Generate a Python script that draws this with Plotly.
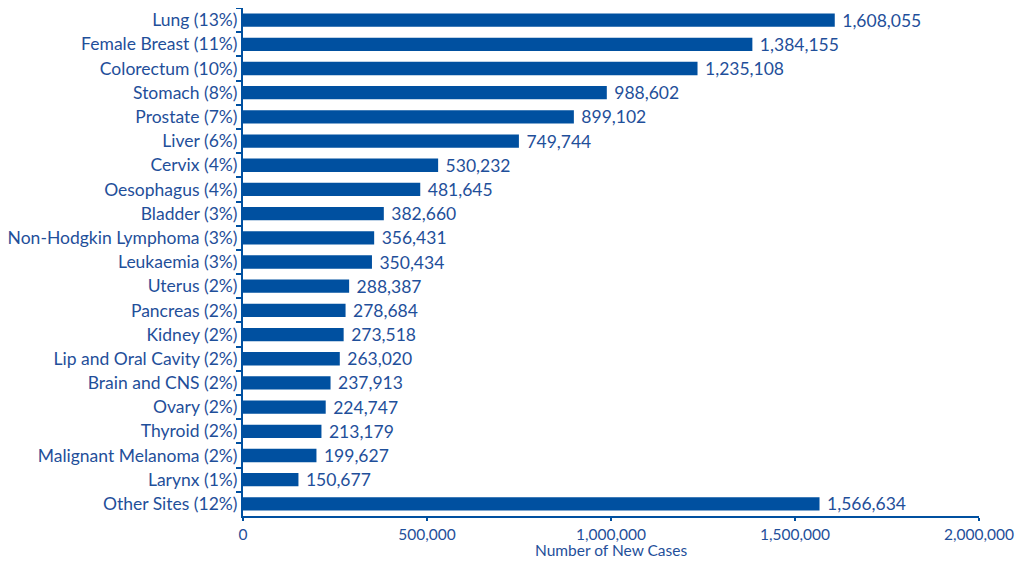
import plotly.graph_objects as go

categories = ["Lung (13%)", "Female Breast (11%)", "Colorectum (10%)", "Stomach (8%)",
              "Prostate (7%)", "Liver (6%)", "Cervix (4%)", "Oesophagus (4%)", "Bladder (3%)",
              "Non-Hodgkin Lymphoma (3%)", "Leukaemia (3%)", "Uterus (2%)", "Pancreas (2%)",
              "Kidney (2%)", "Lip and Oral Cavity (2%)", "Brain and CNS (2%)", "Ovary (2%)",
              "Thyroid (2%)", "Malignant Melanoma (2%)", "Larynx (1%)", "Other Sites (12%)"]
new_cases = [1608055, 1384155, 1235108, 988602, 899102, 749744, 530232, 481645, 382660,
             356431, 350434, 288387, 278684, 273518, 263020, 237913, 224747, 213179,
             199627, 150677, 1566634]
x_ticks = [0, 500000, 1000000, 1500000, 2000000]
x_title = "Number of New Cases"

BLUE = "#0050a0"
TXT = "#1f4f9a"
FONT = "Lato, Open Sans, sans-serif"
FS = 17.5

fig = go.Figure(go.Bar(
    x=new_cases, y=categories, orientation="h",
    marker=dict(color=BLUE, line=dict(width=0)),
    text=new_cases, texttemplate=" %{x:,}", textposition="outside",
    constraintext="none",
    textfont=dict(color=TXT, size=FS, family=FONT), cliponaxis=False,
))
fig.update_layout(
    width=1011, height=553,
    margin=dict(l=233, r=40, t=0, b=45),
    plot_bgcolor="white", paper_bgcolor="white",
    bargap=0.45, showlegend=False,
    font=dict(family=FONT, color=TXT, size=FS),
)
fig.add_annotation(text=x_title, xref="paper", yref="paper", x=0.5, y=0,
                   xanchor="center", yanchor="middle", yshift=-34, showarrow=False,
                   font=dict(size=15.5, color=TXT, family=FONT))
fig.update_xaxes(range=[0, 2000000], tickvals=x_ticks, tickformat=",",
                 showgrid=False, zeroline=False, showline=True, linecolor=BLUE, linewidth=2,
                 ticks="outside", ticklen=3, tickcolor=BLUE, tickwidth=2,
                 tickfont=dict(size=15.5, color=TXT))
fig.update_yaxes(autorange="reversed", showgrid=False, zeroline=False, showline=True,
                 linecolor=BLUE, linewidth=2, ticks="outside", ticklen=5, tickcolor=BLUE,
                 tickwidth=2, tickson="boundaries", tickfont=dict(size=FS, color=TXT))
fig.write_html("out.html")
